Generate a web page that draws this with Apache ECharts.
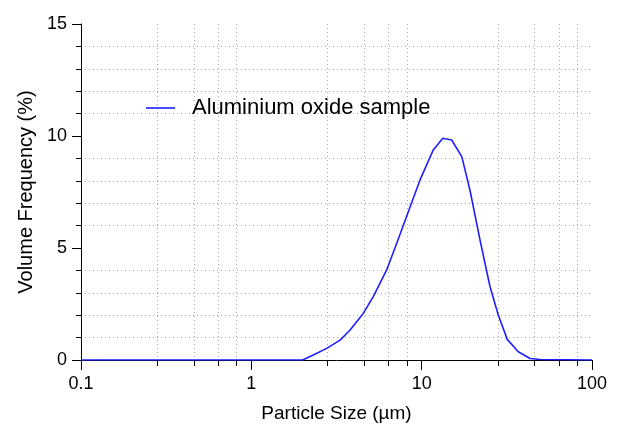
<!DOCTYPE html>
<html>
<head>
<meta charset="utf-8">
<script src="https://cdn.jsdelivr.net/npm/echarts@6/dist/echarts.min.js"></script>
<style>
html,body{margin:0;padding:0;background:#fff;}
#chart{width:621px;height:426px;}
</style>
</head>
<body>
<div id="chart"></div>
<script>
// Particle sizes (µm) and volume frequency (%)
const sizes = [0.1, 2.0, 2.31, 2.77, 3.32, 3.80, 4.54, 5.20, 6.23, 7.14, 8.35, 9.78, 11.7, 13.3, 15.0, 17.2, 19.2, 22.0, 25.2, 28.2, 31.8, 36.9, 43.3, 49.5, 100];
const volumeFrequency = [0, 0, 0.22, 0.52, 0.89, 1.34, 2.08, 2.83, 4.02, 5.21, 6.62, 8.04, 9.38, 9.90, 9.82, 9.08, 7.59, 5.36, 3.27, 2.0, 0.92, 0.37, 0.07, 0.02, 0];
const seriesName = 'Aluminium oxide sample';
const xTickLabels = ['0.1', '1', '10', '100'];
const yTickLabels = ['0', '5', '10', '15'];

const data = sizes.map((s, i) => [s, volumeFrequency[i]]);
const font = 'Liberation Sans, Arial, sans-serif';

const chart = echarts.init(document.getElementById('chart'), null, {renderer: 'canvas'});
chart.setOption({
  animation: false,
  backgroundColor: '#fff',
  grid: {left: 81, right: 29, top: 24, bottom: 66, containLabel: false, outerBoundsMode: 'none'},
  legend: {
    show: true,
    left: 141, top: 92,
    itemWidth: 29, itemHeight: 14,
    textStyle: {fontFamily: font, fontSize: 22, color: '#000', padding: [0, 0, 0, 12]},
    data: [{name: seriesName, icon: 'path://M0,0 L29,0 L29,1.6 L0,1.6 Z', itemStyle: {color: '#1f1fff'}}]
  },
  xAxis: {
    type: 'log', logBase: 10, min: 0.1, max: 100,
    name: 'Particle Size (µm)', nameLocation: 'middle', nameGap: 44,
    nameTextStyle: {fontFamily: font, fontSize: 19, color: '#000'},
    axisLine: {lineStyle: {color: '#000', width: 1}},
    axisTick: {show: true, inside: false, length: 10, lineStyle: {color: '#000'}},
    minorTick: {show: true, splitNumber: 5, length: 6, lineStyle: {color: '#000'}},
    splitLine: {show: false},
    minorSplitLine: {show: true, lineStyle: {color: '#aaa', type: [1, 3], width: 1}},
    axisLabel: {fontFamily: font, fontSize: 18, color: '#000', margin: 15,
      formatter: function (v) { const s = String(+v.toPrecision(3)); return xTickLabels.indexOf(s) >= 0 ? s : ''; }}
  },
  yAxis: {
    type: 'value', min: 0, max: 15, interval: 5,
    name: 'Volume Frequency (%)', nameLocation: 'middle', nameGap: 38, nameRotate: 90,
    nameTextStyle: {fontFamily: font, fontSize: 20, color: '#000'},
    axisLine: {show: true, lineStyle: {color: '#000', width: 1}},
    axisTick: {show: true, inside: false, length: 9, lineStyle: {color: '#000'}},
    minorTick: {show: true, splitNumber: 5, length: 5, lineStyle: {color: '#000'}},
    splitLine: {show: false},
    minorSplitLine: {show: true, lineStyle: {color: '#aaa', type: [1, 3], width: 1}},
    axisLabel: {fontFamily: font, fontSize: 18, color: '#000', margin: 14,
      formatter: function (v) { const s = String(v); return yTickLabels.indexOf(s) >= 0 ? s : ''; }}
  },
  series: [{
    name: seriesName,
    type: 'line',
    data: data,
    showSymbol: false,
    symbol: 'none',
    smooth: false,
    lineStyle: {color: '#1f1fff', width: 1.6},
    itemStyle: {color: '#1f1fff'}
  }]
});
</script>
</body>
</html>
